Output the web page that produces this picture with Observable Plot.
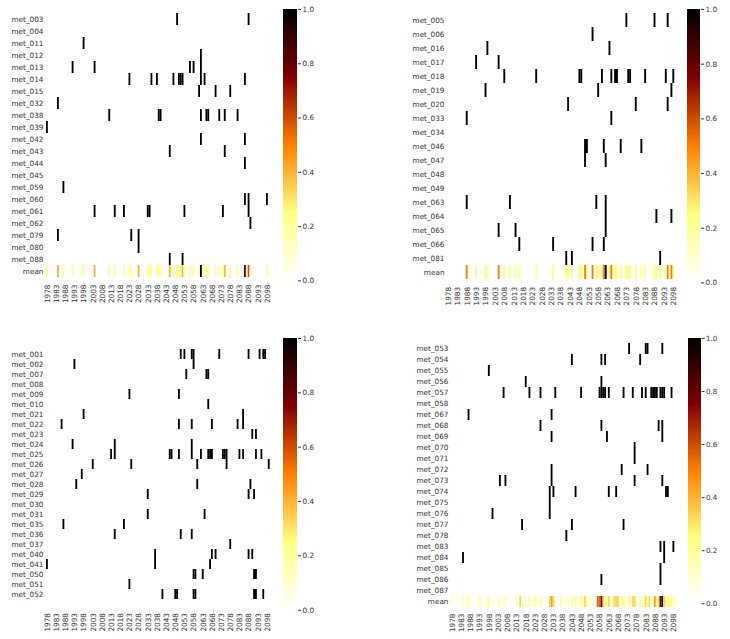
<!DOCTYPE html>
<html>
<head>
<meta charset="utf-8">
<script src="https://cdn.jsdelivr.net/npm/d3@7"></script>
<script src="https://cdn.jsdelivr.net/npm/@observablehq/plot@0.6"></script>
<style>
  html, body { margin: 0; padding: 0; background: #fff; }
  #fig { position: relative; width: 730px; height: 639px; overflow: hidden; background: #fff; }
  #fig > div { position: absolute; }
  svg { overflow: visible; }
</style>
</head>
<body>
<div id="fig"></div>
<script>
// ---------- categories ----------
const years = d3.range(1978, 2101);
const xTicks = [1978,1983,1988,1993,1998,2003,2008,2013,2018,2023,2028,2033,2038,2043,2048,2053,2058,2063,2068,2073,2078,2083,2088,2093,2098];
const cbTicks = [0.0, 0.2, 0.4, 0.6, 0.8, 1.0];

// ---------- panel 1 (top left) ----------
const p1Rows = ["met_003","met_004","met_011","met_012","met_013","met_014","met_015","met_032","met_038","met_039","met_042","met_043","met_044","met_045","met_059","met_060","met_061","met_062","met_079","met_080","met_088"];
const p1Hits = [
  [2049, 2088],
  [],
  [1998],
  [2062],
  [1992, 2004, 2056, 2058, 2062],
  [2023, 2035, 2038, 2047, 2050, 2051, 2052, 2062, 2064, 2086],
  [2061, 2070, 2078],
  [1984],
  [2012, 2039, 2040, 2062, 2065, 2066, 2072, 2075, 2082],
  [1978],
  [2062, 2086],
  [2045, 2075],
  [2086],
  [],
  [1987],
  [2086, 2088, 2098],
  [2004, 2015, 2020, 2033, 2034, 2053, 2074, 2088],
  [2089],
  [1984, 2024, 2028],
  [2028],
  [2045, 2052]
];

// ---------- panel 2 (top right) ----------
const p2Rows = ["met_005","met_006","met_016","met_017","met_018","met_019","met_020","met_033","met_034","met_046","met_047","met_048","met_049","met_063","met_064","met_065","met_066","met_081"];
const p2Hits = [
  [2073, 2088, 2095],
  [2055],
  [1999, 2064],
  [1993, 2005],
  [2008, 2025, 2048, 2049, 2060, 2065, 2067, 2068, 2074, 2075, 2083, 2094, 2098],
  [1998, 2058, 2097],
  [2042, 2078, 2095],
  [1988, 2065],
  [],
  [2051, 2052, 2061, 2070, 2081],
  [2051, 2062],
  [],
  [],
  [1988, 2011, 2057, 2062],
  [2062, 2089, 2097],
  [2005, 2014, 2062],
  [2016, 2034, 2055, 2061],
  [2041, 2044, 2091]
];

// ---------- panel 3 (bottom left) ----------
const p3Rows = ["met_001","met_002","met_007","met_008","met_009","met_010","met_021","met_022","met_023","met_024","met_025","met_026","met_027","met_028","met_029","met_030","met_031","met_035","met_036","met_037","met_040","met_041","met_050","met_051","met_052"];
const p3Hits = [
  [2051, 2053, 2057, 2058, 2072, 2088, 2094, 2096, 2097],
  [1993, 2058],
  [2054, 2065, 2066],
  [],
  [2023, 2050],
  [2066],
  [1998, 2085],
  [1986, 2050, 2057, 2068, 2082, 2085],
  [2090, 2092],
  [1992, 2015, 2057],
  [2013, 2015, 2045, 2046, 2050, 2057, 2062, 2066, 2067, 2068, 2074, 2075, 2076, 2083, 2085, 2092, 2095],
  [2003, 2024, 2060, 2076, 2099],
  [1997],
  [1994, 2060, 2089],
  [2033, 2088, 2091],
  [],
  [2033, 2064],
  [1987, 2020],
  [2015, 2051, 2057],
  [2078],
  [2037, 2068, 2070, 2088, 2090],
  [1978, 2037, 2067],
  [2058, 2059, 2063, 2091, 2092],
  [2023],
  [2041, 2048, 2049, 2058, 2059, 2091, 2092, 2096]
];

// ---------- panel 4 (bottom right) ----------
const p4Rows = ["met_053","met_054","met_055","met_056","met_057","met_058","met_067","met_068","met_069","met_070","met_071","met_072","met_073","met_074","met_075","met_076","met_077","met_078","met_083","met_084","met_085","met_086","met_087"];
const p4Hits = [
  [2074, 2083, 2084, 2092],
  [2043, 2059, 2061, 2080],
  [1998],
  [2018, 2059],
  [2006, 2020, 2026, 2034, 2048, 2058, 2059, 2060, 2061, 2063, 2071, 2076, 2081, 2083, 2086, 2087, 2088, 2089, 2091, 2092, 2093, 2097],
  [],
  [1987, 2032],
  [2026, 2059, 2090, 2092],
  [2032, 2062, 2092],
  [2077],
  [2077],
  [2032, 2070, 2084],
  [2004, 2007, 2032, 2077, 2092],
  [2031, 2033, 2045, 2063, 2067, 2094, 2095],
  [2031],
  [2000, 2031],
  [2016, 2043, 2071],
  [2040],
  [2091, 2093, 2098],
  [1984, 2093],
  [2091],
  [2059, 2091],
  []
];

// ---------- colour map (afmhot reversed) ----------
function afmhotR(t) {
  const x = 1 - Math.max(0, Math.min(1, t));
  const c = v => Math.round(255 * Math.max(0, Math.min(1, v)));
  return `rgb(${c(2 * x)},${c(2 * x - 0.5)},${c(2 * x - 1)})`;
}
const colorScale = {type: "linear", domain: [0, 1], interpolate: afmhotR};

// ---------- build cell tables ----------
function cellsFor(rows, hits) {
  const out = [];
  rows.forEach((r, i) => hits[i].forEach(y => out.push({row: r, year: y, value: 1})));
  return out;
}
// "mean" row: event count per year across the rows, scaled to the largest count
function meanCells(groups) {
  const counts = new Map();
  groups.forEach(hits => hits.forEach(list => list.forEach(y => counts.set(y, (counts.get(y) || 0) + 1))));
  const mx = d3.max(counts.values());
  return [...counts].map(([y, c]) => ({row: "mean", year: y, value: c / mx}));
}

const FONT = {fontFamily: "'DejaVu Sans', sans-serif", fontSize: "7.3px", color: "#333", background: "transparent"};
const fig = document.getElementById("fig");

function place(node, left, top) {
  const d = document.createElement("div");
  d.style.left = left + "px";
  d.style.top = top + "px";
  d.appendChild(node);
  fig.appendChild(d);
}

function heatmap(rows, cells, box) {
  const [x0, x1, y0, y1] = box;
  const L = 60, T = 4, R = 4, B = 40;
  const svg = Plot.plot({
    width: L + (x1 - x0) + R,
    height: T + (y1 - y0) + B,
    marginLeft: L, marginTop: T, marginRight: R, marginBottom: B,
    style: FONT,
    x: {type: "band", domain: years, padding: 0, ticks: xTicks, tickFormat: d => String(d), tickRotate: -90, tickSize: 0, tickPadding: 3, label: null},
    y: {type: "band", domain: rows, padding: 0, tickSize: 0, tickPadding: 3, label: null},
    color: colorScale,
    marks: [
      Plot.cell(cells, {x: "year", y: "row", fill: "value", inset: 0})
    ]
  });
  place(svg, x0 - L, y0 - T);
}

function colorbar(box) {
  const [x0, x1, y0, y1] = box;
  const T = 4, B = 4, R = 30;
  const step = 0.004;
  const stops = d3.range(0, 1, step);
  const svg = Plot.plot({
    width: (x1 - x0) + R,
    height: T + (y1 - y0) + B,
    marginLeft: 0, marginTop: T, marginRight: R, marginBottom: B,
    style: FONT,
    x: {domain: [0, 1], axis: null},
    y: {domain: [0, 1], axis: "right", ticks: cbTicks, tickFormat: ".1f", tickSize: 3, tickPadding: 2, label: null},
    color: colorScale,
    marks: [
      Plot.rect(stops, {x1: 0, x2: 1, y1: d => d, y2: d => Math.min(1, d + step * 1.6), fill: d => d + step / 2, shapeRendering: "crispEdges"})
    ]
  });
  place(svg, x0, y0 - T);
}

// top left
heatmap([...p1Rows, "mean"], [...cellsFor(p1Rows, p1Hits), ...meanCells([p1Hits])], [45.8, 271.3, 9, 281]);
colorbar([283, 297, 9.3, 280.7]);
// top right
heatmap([...p2Rows, "mean"], [...cellsFor(p2Rows, p2Hits), ...meanCells([p2Hits])], [447, 678, 8.8, 283.2]);
colorbar([687, 700, 9.3, 282.7]);
// bottom left
heatmap(p3Rows, cellsFor(p3Rows, p3Hits), [45.8, 271.3, 338.9, 609.4]);
colorbar([283, 297, 338.3, 610]);
// bottom right (mean over both bottom panels)
heatmap([...p4Rows, "mean"], [...cellsFor(p4Rows, p4Hits), ...meanCells([p3Hits, p4Hits])], [450.8, 677.8, 338.7, 609.7]);
colorbar([688, 701, 338.3, 610]);
</script>
</body>
</html>
